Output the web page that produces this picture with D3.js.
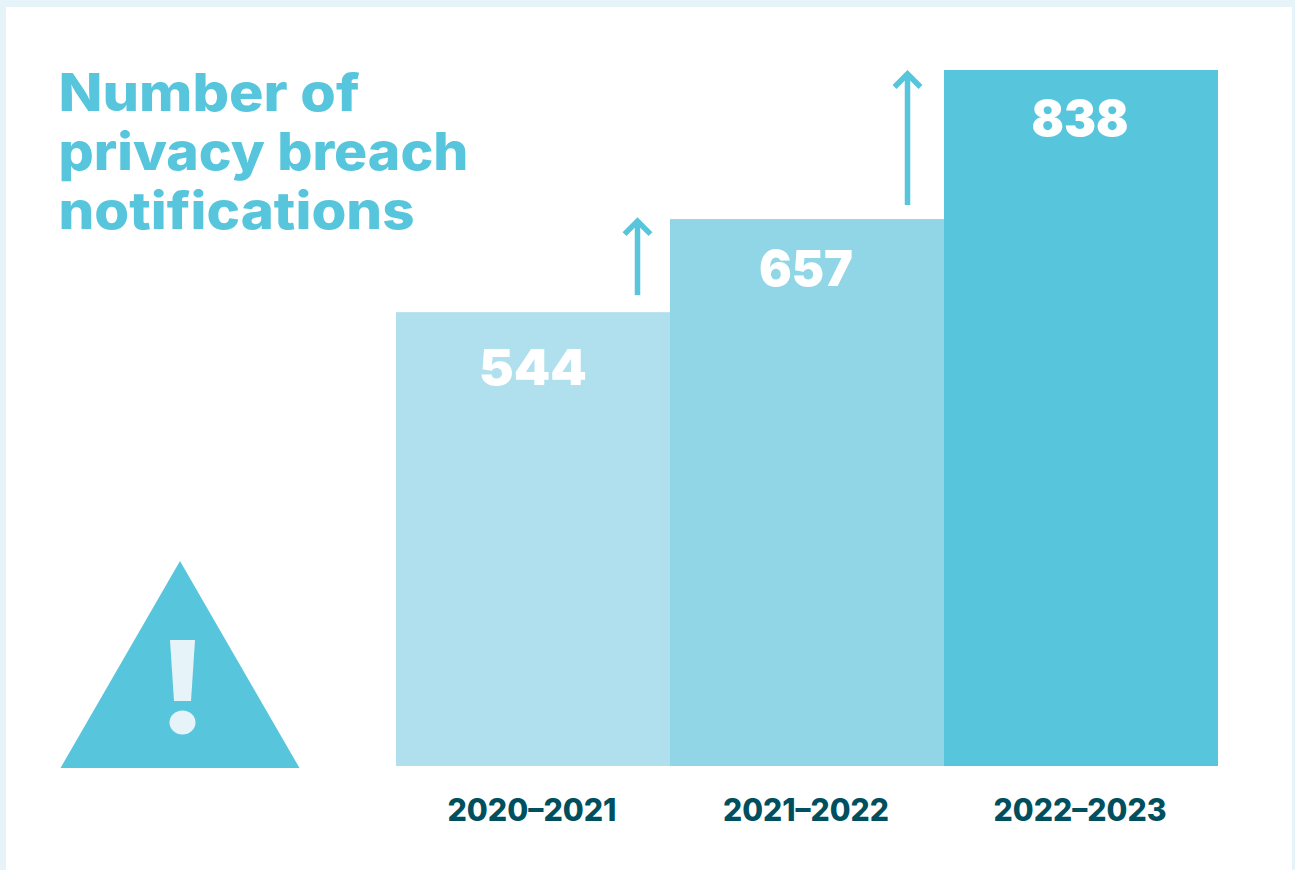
<!DOCTYPE html>
<html>
<head>
<meta charset="utf-8">
<script src="https://cdn.jsdelivr.net/npm/d3@7/dist/d3.min.js"></script>
<style>
  html, body { margin: 0; padding: 0; background: #e6f4f9; overflow: hidden; }
  svg { display: block; font-family: "Inter", "Open Sans", sans-serif; }
</style>
</head>
<body>
<svg id="chart" width="1295" height="870"></svg>
<script>
// Reporting years and breach notification counts
const years = ["2020–2021", "2021–2022", "2022–2023"];
const notifications = [544, 657, 838];
const barColours = ["#b0e0ed", "#90d6e6", "#57c6dc"];
const titleLines = ["Number of", "privacy breach", "notifications"];

const accent = "#57c6dc";
const pale = "#e6f4f9";
const ink = "#004f5f";

const svg = d3.select("#chart");

// White card on the pale page
svg.append("rect").attr("x", 6).attr("y", 7).attr("width", 1286).attr("height", 863).attr("fill", "#fff");

const x = d3.scaleBand().domain(years).range([396, 1218]).padding(0);
const y = d3.scaleLinear().domain([-7, 838]).range([766, 70]);

// Bars
svg.append("g").selectAll("rect")
  .data(years)
  .join("rect")
  .attr("x", d => x(d))
  .attr("width", x.bandwidth())
  .attr("y", (d, i) => y(notifications[i]))
  .attr("height", (d, i) => y.range()[0] - y(notifications[i]))
  .attr("fill", (d, i) => barColours[i]);

// Value labels inside the top of each bar
const valueWidths = [108, 94, 97];
const valueShifts = [0, -1, -1];
const valueDrops = [73, 67, 66];
svg.append("g").selectAll("text")
  .data(years)
  .join("text")
  .attr("x", (d, i) => x(d) + x.bandwidth() / 2 + valueShifts[i])
  .attr("y", (d, i) => y(notifications[i]) + valueDrops[i])
  .attr("text-anchor", "middle")
  .attr("font-size", 50)
  .attr("font-weight", 900)
  .attr("fill", "#fff")
  .attr("textLength", (d, i) => valueWidths[i])
  .attr("lengthAdjust", "spacingAndGlyphs")
  .text((d, i) => notifications[i]);

// Year labels along the bottom
const axis = svg.append("g")
  .attr("transform", `translate(-1,${y.range()[0]})`)
  .call(d3.axisBottom(x).tickSize(0).tickPadding(33));
axis.select(".domain").remove();
const yearWidths = [169, 166, 173];
axis.selectAll("text")
  .attr("font-family", "Inter, sans-serif")
  .attr("font-size", 31)
  .attr("font-weight", 800)
  .attr("fill", ink)
  .attr("textLength", (d, i) => yearWidths[i])
  .attr("lengthAdjust", "spacingAndGlyphs");

// Rise arrows between consecutive bars
const arrowOffsets = [33, 37];
const arrowGaps = [17, 14];
const tipLifts = [2, 0];
const arrows = svg.append("g")
  .attr("fill", "none")
  .attr("stroke", accent)
  .attr("stroke-width", 5.5);
d3.pairs(years).forEach(([prev, next], i) => {
  const ax = x(next) - arrowOffsets[i] + 0.5;
  const tipY = y(notifications[i + 1]) - tipLifts[i];
  arrows.append("line")
    .attr("x1", ax).attr("x2", ax)
    .attr("y1", y(notifications[i]) - arrowGaps[i]).attr("y2", tipY + 3);
  arrows.append("path")
    .attr("d", d3.line()([[ax - 13, tipY + 17], [ax, tipY + 4], [ax + 13, tipY + 17]]));
});

// Title
svg.append("g").selectAll("text")
  .data(titleLines)
  .join("text")
  .attr("x", 58.5)
  .attr("y", (d, i) => 110.5 + i * 59)
  .attr("font-size", 52)
  .attr("font-weight", 800)
  .attr("fill", accent)
  .attr("textLength", (d, i) => [301, 410, 356][i])
  .attr("lengthAdjust", "spacingAndGlyphs")
  .text(d => d);

// Warning triangle
svg.append("path")
  .attr("d", d3.line()([[180, 561], [299.5, 768], [60.5, 768]]) + "Z")
  .attr("fill", accent);
svg.append("path")
  .attr("d", d3.line()([[170, 640], [195, 640], [191, 701], [174, 701]]) + "Z")
  .attr("fill", pale);
svg.append("ellipse")
  .attr("cx", 182.5).attr("cy", 722.5).attr("rx", 13).attr("ry", 12)
  .attr("fill", pale);
</script>
</body>
</html>
